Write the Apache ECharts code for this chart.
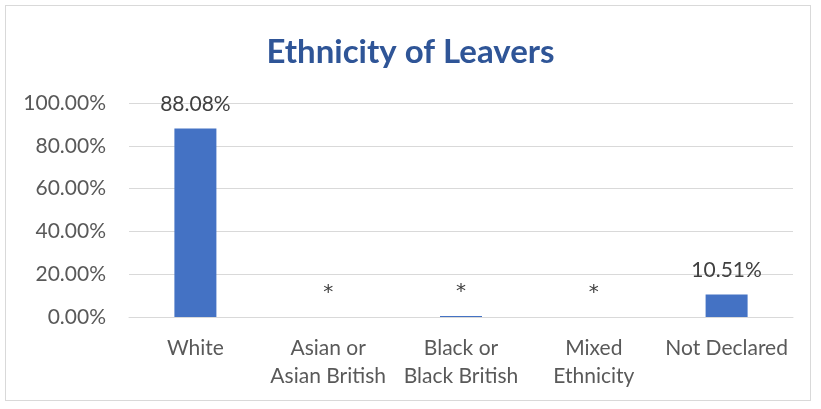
<!DOCTYPE html>
<html><head><meta charset="utf-8">
<script src="https://cdn.jsdelivr.net/npm/echarts@6/dist/echarts.min.js"></script>
<style>html,body{margin:0;padding:0;background:#fff}#c{width:821px;height:409px}
#frame{position:absolute;left:5px;top:5px;width:806px;height:396px;border:1px solid #d9d9d9;box-sizing:border-box;pointer-events:none}</style>
</head><body><div id="c"></div><div id="frame"></div>
<script>
const categories = ["White", "Asian or\nAsian British", "Black or\nBlack British", "Mixed\nEthnicity", "Not Declared"];
const values = [88.08, 0, 0.5, 0, 10.51];
const valueLabels = ["88.08%", "*", "*", "*", "10.51%"];
const yTicks = [0, 20, 40, 60, 80, 100];

const chart = echarts.init(document.getElementById('c'));
const font = 'Lato, "Open Sans", sans-serif';
chart.setOption({
  animation: false,
  title: {text: 'Ethnicity of Leavers', left: 'center', top: 31,
    textStyle: {fontFamily: font, fontSize: 33, fontWeight: 'bold', color: '#2F5597'}},
  grid: {left: 129, right: 28, top: 103, bottom: 92},
  xAxis: {type: 'category', data: categories,
    axisLine: {lineStyle: {color: '#d9d9d9'}}, axisTick: {show: false},
    axisLabel: {fontFamily: font, fontSize: 21, color: '#595959', lineHeight: 28, margin: 17, interval: 0}},
  yAxis: {type: 'value', min: yTicks[0], max: yTicks[yTicks.length-1], interval: 20,
    axisLine: {show: false}, axisTick: {show: false},
    splitLine: {lineStyle: {color: '#d9d9d9'}},
    axisLabel: {fontFamily: font, fontSize: 21, color: '#595959', margin: 23,
      formatter: v => v.toFixed(2) + '%'}},
  series: [{type: 'bar', data: values, barWidth: 42,
    itemStyle: {color: '#4472C4'},
    label: {show: true, position: 'top', distance: 14, fontFamily: font, fontSize: 21, color: '#404040',
      formatter: p => valueLabels[p.dataIndex] === '*' ? '{s|*}' : valueLabels[p.dataIndex],
      rich: {s: {fontFamily: '"DejaVu Sans", sans-serif', fontSize: 20, color: '#404040', lineHeight: 21}}}}]
});
</script></body></html>
